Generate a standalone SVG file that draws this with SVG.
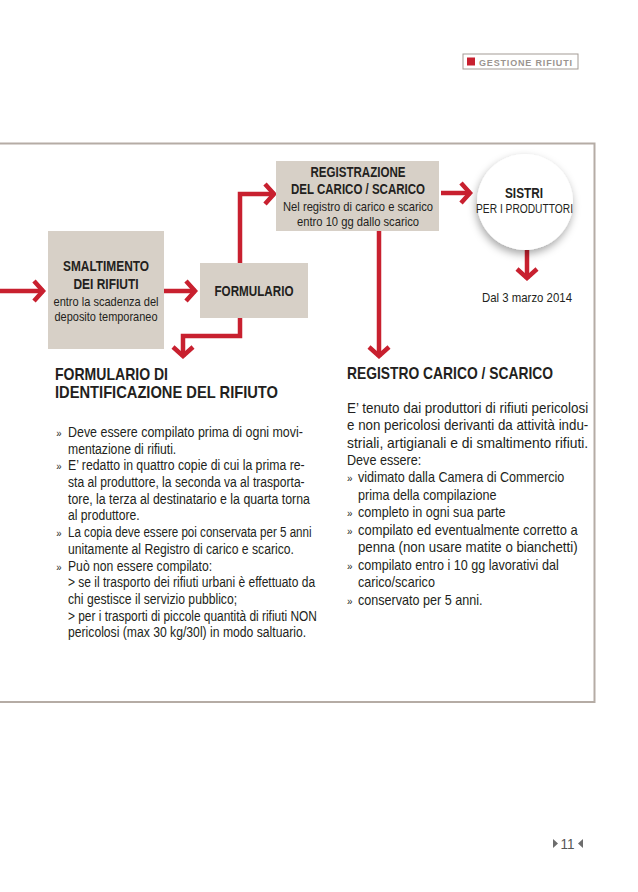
<svg xmlns="http://www.w3.org/2000/svg" width="638" height="892" viewBox="0 0 638 892">
<style>
  .t{font-family:"Liberation Sans","Arial",sans-serif;fill:#231f20;}
  .b{font-weight:bold;}
  .box{fill:#d7d0c7;}
  .con{fill:none;stroke:#c8202f;stroke-width:4.5;stroke-linejoin:miter;}
  .c{text-anchor:middle;}
  .body{font-size:14px;}
  .bul{font-size:11px;}
</style>
<defs>
  <marker id="chev" markerUnits="userSpaceOnUse" viewBox="-14 -13 16 26" refX="0" refY="0" markerWidth="16" markerHeight="26" orient="auto">
    <path d="M-10,-10 L-1,0 L-10,10" fill="none" stroke="#c8202f" stroke-width="4.5"/>
  </marker>
  <filter id="sh" x="-30%" y="-30%" width="160%" height="170%">
    <feDropShadow dx="-1" dy="4" stdDeviation="4" flood-color="#000" flood-opacity="0.35"/>
  </filter>
</defs>
<rect width="638" height="892" fill="#ffffff"/>

<g id="header">
  <rect x="463" y="54" width="115" height="15" fill="#fff" stroke="#a39b95" stroke-width="1"/>
  <rect x="467" y="57.5" width="8" height="8" fill="#c8202f"/>
  <text x="479" y="65.5" font-family="Liberation Sans,sans-serif" font-weight="bold" font-size="9" fill="#9b948f" textLength="93">GESTIONE RIFIUTI</text>
</g>

<g id="frame">
  <path d="M0,143.5 H594.5 V702 H0" fill="none" stroke="#b5aca5" stroke-width="2"/>
</g>

<g id="connectors">
  <path class="con" d="M0,291 H44" marker-end="url(#chev)"/>
  <path class="con" d="M164,291 H196" marker-end="url(#chev)"/>
  <path class="con" d="M240,263 V194 H275" marker-end="url(#chev)"/>
  <path class="con" d="M240,318 V336 H183 V357" marker-end="url(#chev)"/>
  <path class="con" d="M379,231 V357" marker-end="url(#chev)"/>
  <path class="con" d="M441,193 H471" marker-end="url(#chev)"/>
  <path class="con" d="M527,250 V279" marker-end="url(#chev)"/>
</g>

<g id="smaltimento">
  <rect class="box" x="48" y="231" width="116" height="118"/>
  <text class="t b c" x="106" y="271" font-size="14.5" textLength="86" lengthAdjust="spacingAndGlyphs">SMALTIMENTO</text>
  <text class="t b c" x="106" y="289" font-size="14.5" textLength="65" lengthAdjust="spacingAndGlyphs">DEI RIFIUTI</text>
  <text class="t c" x="106" y="306" font-size="13" textLength="105" lengthAdjust="spacingAndGlyphs">entro la scadenza del</text>
  <text class="t c" x="106" y="321" font-size="13" textLength="103" lengthAdjust="spacingAndGlyphs">deposito temporaneo</text>
</g>

<g id="formulario">
  <rect class="box" x="200" y="263" width="108" height="55"/>
  <text class="t b c" x="254" y="296" font-size="14.5" textLength="79" lengthAdjust="spacingAndGlyphs">FORMULARIO</text>
</g>

<g id="registrazione">
  <rect class="box" x="276" y="161" width="163" height="70"/>
  <text class="t b c" x="358" y="177" font-size="14.5" textLength="95" lengthAdjust="spacingAndGlyphs">REGISTRAZIONE</text>
  <text class="t b c" x="358" y="194" font-size="14.5" textLength="134" lengthAdjust="spacingAndGlyphs">DEL CARICO / SCARICO</text>
  <text class="t c" x="358" y="211" font-size="13" textLength="150" lengthAdjust="spacingAndGlyphs">Nel registro di carico e scarico</text>
  <text class="t c" x="358" y="226" font-size="13" textLength="122" lengthAdjust="spacingAndGlyphs">entro 10 gg dallo scarico</text>
</g>

<g id="sistri">
  <circle cx="525" cy="202" r="48" fill="#ffffff" filter="url(#sh)"/>
  <text class="t b c" x="524" y="198" font-size="14.5" textLength="38" lengthAdjust="spacingAndGlyphs">SISTRI</text>
  <text class="t c" x="524.5" y="213" font-size="12.5" textLength="97" lengthAdjust="spacingAndGlyphs">PER I PRODUTTORI</text>
</g>

<g id="dal">
  <text class="t c" x="527" y="302" font-size="13" textLength="90" lengthAdjust="spacingAndGlyphs">Dal 3 marzo 2014</text>
</g>

<g id="formulario-testo">
  <text class="t b" x="55" y="380" font-size="17" textLength="113" lengthAdjust="spacingAndGlyphs">FORMULARIO DI</text>
  <text class="t b" x="55" y="398" font-size="17" textLength="223" lengthAdjust="spacingAndGlyphs">IDENTIFICAZIONE DEL RIFIUTO</text>
  <g class="t body" transform="translate(68,0) scale(0.87,1)">
    <text class="bul" x="-13.5" y="437">»</text><text x="0" y="437" textLength="270" lengthAdjust="spacingAndGlyphs">Deve essere compilato prima di ogni movi-</text>
    <text x="0" y="453.7">mentazione di rifiuti.</text>
    <text class="bul" x="-13.5" y="470.4">»</text><text x="0" y="470.4" textLength="272" lengthAdjust="spacingAndGlyphs">E’ redatto in quattro copie di cui la prima re-</text>
    <text x="0" y="487.1" textLength="272" lengthAdjust="spacingAndGlyphs">sta al produttore, la seconda va al trasporta-</text>
    <text x="0" y="503.8" textLength="278" lengthAdjust="spacingAndGlyphs">tore, la terza al destinatario e la quarta torna</text>
    <text x="0" y="520.5">al produttore.</text>
    <text class="bul" x="-13.5" y="537.2">»</text><text x="0" y="537.2" textLength="280" lengthAdjust="spacingAndGlyphs">La copia deve essere poi conservata per 5 anni</text>
    <text x="0" y="553.9">unitamente al Registro di carico e scarico.</text>
    <text class="bul" x="-13.5" y="570.6">»</text><text x="0" y="570.6">Può non essere compilato:</text>
    <text x="0" y="587.3" textLength="284" lengthAdjust="spacingAndGlyphs">&gt; se il trasporto dei rifiuti urbani è effettuato da</text>
    <text x="0" y="604">chi gestisce il servizio pubblico;</text>
    <text x="0" y="620.7" textLength="286" lengthAdjust="spacingAndGlyphs">&gt; per i trasporti di piccole quantità di rifiuti NON</text>
    <text x="0" y="637.4">pericolosi (max 30 kg/30l) in modo saltuario.</text>
  </g>
</g>

<g id="registro-testo">
  <text class="t b" x="347" y="379" font-size="17" textLength="206" lengthAdjust="spacingAndGlyphs">REGISTRO CARICO / SCARICO</text>
  <g class="t body" transform="translate(358,0) scale(0.9,1)">
    <text x="-12.2" y="413" textLength="268" lengthAdjust="spacingAndGlyphs">E’ tenuto dai produttori di rifiuti pericolosi</text>
    <text x="-12.2" y="430.5" textLength="268" lengthAdjust="spacingAndGlyphs">e non pericolosi derivanti da attività indu-</text>
    <text x="-12.2" y="448" textLength="268" lengthAdjust="spacingAndGlyphs">striali, artigianali e di smaltimento rifiuti.</text>
    <text x="-12.2" y="465">Deve essere:</text>
    <text class="bul" x="-12.2" y="482.5">»</text><text x="0" y="482.5">vidimato dalla Camera di Commercio</text>
    <text x="0" y="500">prima della compilazione</text>
    <text class="bul" x="-12.2" y="517.5">»</text><text x="0" y="517.5">completo in ogni sua parte</text>
    <text class="bul" x="-12.2" y="535">»</text><text x="0" y="535" textLength="244" lengthAdjust="spacingAndGlyphs">compilato ed eventualmente corretto a</text>
    <text x="0" y="552.5" textLength="244" lengthAdjust="spacingAndGlyphs">penna (non usare matite o bianchetti)</text>
    <text class="bul" x="-12.2" y="570">»</text><text x="0" y="570">compilato entro i 10 gg lavorativi dal</text>
    <text x="0" y="587.5">carico/scarico</text>
    <text class="bul" x="-12.2" y="605">»</text><text x="0" y="605">conservato per 5 anni.</text>
  </g>
</g>

<g id="pagina">
  <polygon points="553,839 558,843.5 553,848" fill="#6d6d6d"/>
  <text x="567.5" y="849" font-family="Liberation Sans,sans-serif" font-size="14" fill="#555" text-anchor="middle" textLength="14" lengthAdjust="spacingAndGlyphs">11</text>
  <polygon points="583,839 578,843.5 583,848" fill="#6d6d6d"/>
</g>
</svg>
